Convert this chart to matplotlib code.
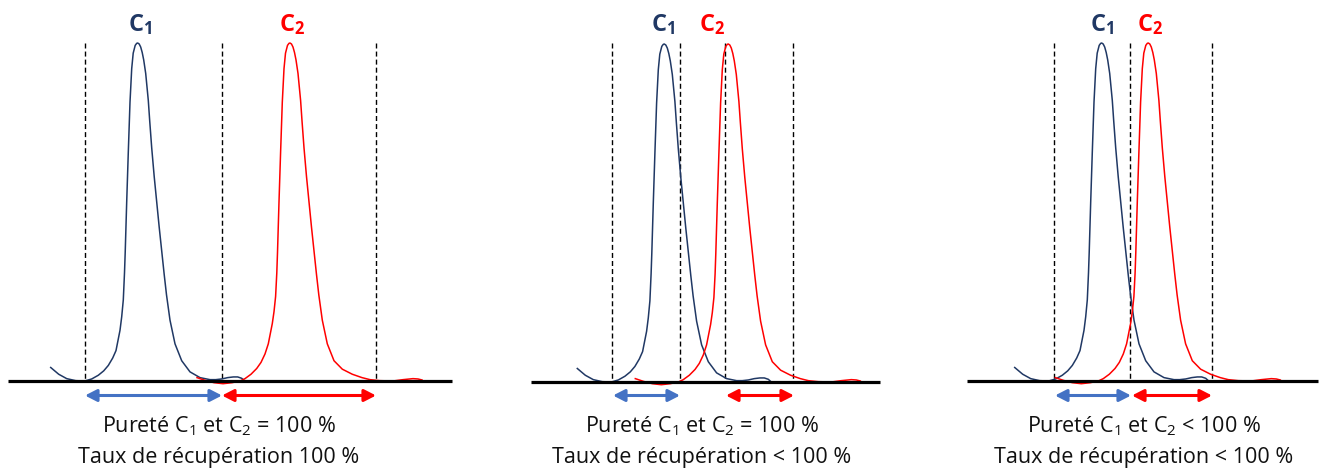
import matplotlib.pyplot as plt
from matplotlib.patches import FancyArrowPatch

plt.rcParams['font.family'] = ['Open Sans', 'DejaVu Sans']
plt.rcParams['mathtext.fontset'] = 'custom'
plt.rcParams['mathtext.rm'] = 'Open Sans'
plt.rcParams['mathtext.it'] = 'Open Sans:italic'
plt.rcParams['mathtext.bf'] = 'Open Sans:bold'

NAVY = '#203864'
RED = '#ff0000'
ARROW_BLUE = '#4472c4'

# peak profiles: offset from apex (px) / relative height
BLUE_DX = [-87, -79, -71, -62, -53, -46, -39.4, -34, -29.4, -25, -21.7, -17.7,
           -16, -14.4, -13.2, -12.5, -11, -9.4, -7.7, -6, -4.5, -2.5, -1, 0,
           1.5, 3, 4.5, 6, 8, 10.6, 12, 14, 16.5, 19, 21.5, 24, 26.5, 28.8,
           32.3, 37.3, 44, 52.3, 62.3, 72.3, 78, 84, 90, 95.6, 100, 104, 107]
BLUE_H = [0.04, 0.02, 0.007, 0.001, 0, 0.006, 0.017, 0.03, 0.046, 0.068, 0.09,
          0.15, 0.19, 0.24, 0.32, 0.38, 0.53, 0.677, 0.825, 0.924, 0.97,
          0.993, 0.999, 1.0, 0.997, 0.988, 0.972, 0.95, 0.91, 0.83, 0.77,
          0.69, 0.605, 0.53, 0.455, 0.385, 0.315, 0.255, 0.18, 0.11, 0.06,
          0.027, 0.01, 0.004, 0.004, 0.006, 0.01, 0.012, 0.012, 0.008, 0]
RED_DX = [-93, -85, -76, -67, -58, -50, -45, -39, -33.3, -29, -25, -21.7,
          -17.7, -16, -14.4, -13.2, -12.5, -11, -9.4, -7.7, -6, -4.5, -2.5, -1,
          0, 1.5, 3, 4.5, 6, 8, 10.6, 12, 14, 16.5, 19, 21.5, 24, 26.5, 28.8,
          32.3, 37.3, 44, 52.3, 62.3, 72, 80, 90, 103, 113, 123, 128, 132]
RED_H = [0.01, 0.002, -0.005, -0.008, -0.005, 0.0, 0.007, 0.02, 0.037, 0.055,
         0.08, 0.11, 0.17, 0.205, 0.25, 0.32, 0.38, 0.53, 0.677, 0.825, 0.924,
         0.97, 0.993, 0.999, 1.0, 0.997, 0.988, 0.972, 0.95, 0.91, 0.83, 0.77,
         0.69, 0.605, 0.53, 0.455, 0.385, 0.315, 0.255, 0.18, 0.11, 0.06,
         0.035, 0.02, 0.01, 0.004, 0.001, 0, 0.004, 0.007, 0.006, 0.003]
PEAK_HEIGHT = 338

# three panels
BASE_X0 = [8, 531, 967]
BASE_X1 = [452, 880, 1318]
BASELINE_Y = [381, 382, 381]
APEX_C1 = [137.7, 664.3, 1101.7]
APEX_C2 = [290, 728.3, 1148.3]
CUTS = [[85, 222, 376], [612, 680, 725, 793], [1054, 1130, 1212]]
ARROW_C1 = [(85, 222), (613, 680), (1055, 1131)]
ARROW_C2 = [(222, 376), (726, 794), (1132, 1212)]
LABEL_C1_X = [140, 663, 1102]
LABEL_C2_X = [292, 712, 1150]
TEXT_X = [219, 702, 1144]
PURITY = ['= 100 %', '= 100 %', '< 100 %']
RECOVERY = ['100 %', '< 100 %', '< 100 %']
DASH_TOP = 43
ARROW_Y = 395.5

fig = plt.figure(figsize=(13.21, 4.70), dpi=100)
ax = fig.add_axes([0, 0, 1, 1])
ax.set_xlim(0, 1321)
ax.set_ylim(470, 0)
ax.axis('off')

for i in range(3):
    base = BASELINE_Y[i]
    for apex, dx, h, col in ((APEX_C1[i], BLUE_DX, BLUE_H, NAVY),
                             (APEX_C2[i], RED_DX, RED_H, RED)):
        ax.plot([apex + d for d in dx], [base - v * PEAK_HEIGHT for v in h],
                color=col, lw=1.1, zorder=2)
    ax.plot([BASE_X0[i], BASE_X1[i]], [base, base], color='black', lw=2.3,
            solid_capstyle='butt', zorder=3)
    for c in CUTS[i]:
        ax.plot([c, c], [DASH_TOP, base], color='black', lw=1.0,
                dashes=(3.6, 2.2), zorder=1)

    for (x0, x1), col in ((ARROW_C1[i], ARROW_BLUE), (ARROW_C2[i], RED)):
        ax.add_patch(FancyArrowPatch((x0, ARROW_Y), (x1, ARROW_Y),
                                     arrowstyle='<|-|>,head_length=7,head_width=3.6',
                                     mutation_scale=1, lw=2.2, color=col,
                                     shrinkA=0, shrinkB=0, zorder=3))

    ax.text(LABEL_C1_X[i], 31, r'$\mathbf{C}_\mathbf{1}$', color=NAVY,
            fontsize=17, ha='center', va='baseline')
    ax.text(LABEL_C2_X[i], 31, r'$\mathbf{C}_\mathbf{2}$', color=RED,
            fontsize=17, ha='center', va='baseline')

    ax.text(TEXT_X[i], 432.5, r'Pureté $\mathrm{C}_1$ et $\mathrm{C}_2$ ' + PURITY[i],
            fontsize=15.5, ha='center', va='baseline', color='#111111')
    ax.text(TEXT_X[i], 462.5, 'Taux de récupération ' + RECOVERY[i],
            fontsize=15.5, ha='center', va='baseline', color='#111111')

fig.savefig('out.png', dpi=100)
